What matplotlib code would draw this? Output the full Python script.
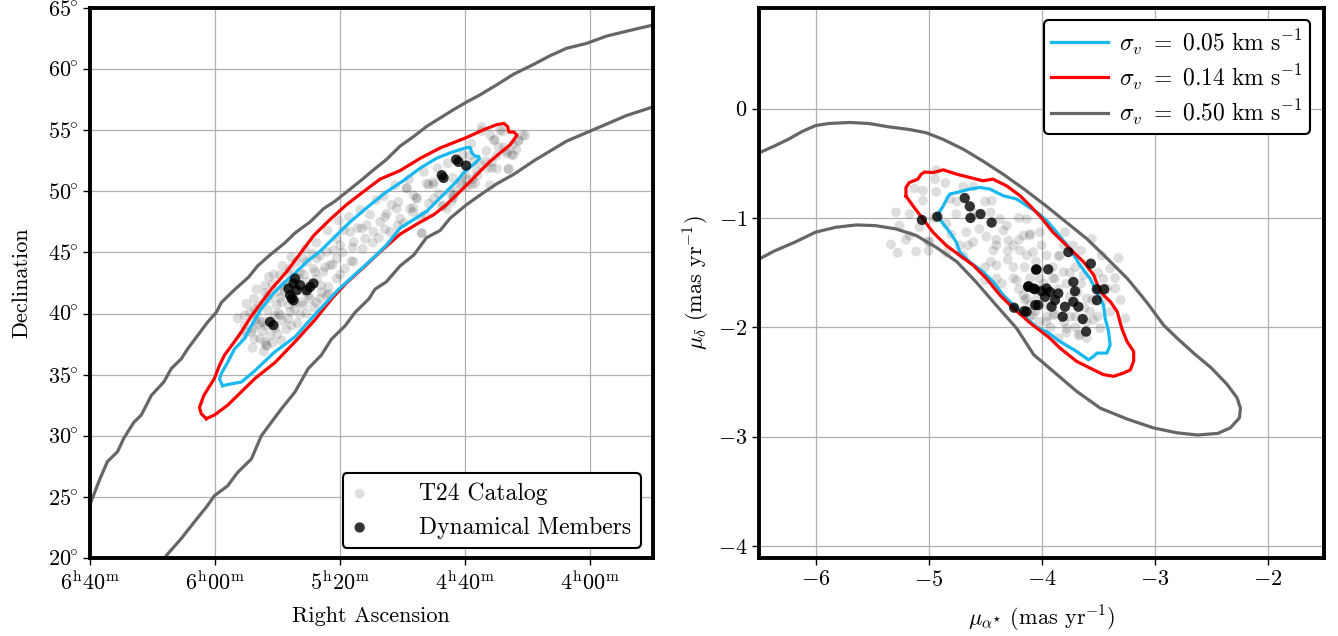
import matplotlib
matplotlib.use("Agg")
import matplotlib.pyplot as plt
from matplotlib.ticker import FuncFormatter
import numpy as np

plt.rcParams['font.family'] = 'serif'
plt.rcParams['font.serif'] = ['cmr10']
plt.rcParams['mathtext.fontset'] = 'cm'
plt.rcParams['axes.unicode_minus'] = False

# ---------------- left panel: sky positions (deg) ----------------
t24_ra = [68.67, 67.73, 65.73, 66.67, 66.13, 66.53, 67.47, 67.87, 68.67, 69.6, 69.2, 69.87,
          70.4, 70.93, 71.73, 72.53, 73.07, 73.87, 74.13, 74.67, 75.33, 75.47, 76.27, 76.4,
          74.4, 73.47, 76.8, 77.87, 78.27, 79.2, 79.73, 80.0, 80.27, 80.53, 81.07, 81.6,
          81.87, 78.93, 79.6, 80.8, 81.33, 82.13, 82.67, 83.2, 84.0, 84.8, 84.53, 85.07,
          85.6, 86.13, 85.07, 84.0, 82.93, 81.87, 81.6, 80.93, 80.27, 86.67, 86.13, 86.93,
          87.47, 86.4, 85.87, 84.8, 82.67, 81.07, 80.27, 78.93, 78.0, 77.33, 76.0, 75.2,
          73.6, 72.53, 71.47, 70.67, 68.0, 69.33, 67.33,
          87.64, 87.1, 86.84, 86.03, 85.9, 86.3, 85.23, 84.16, 83.62, 84.69, 83.08, 86.84,
          87.64, 85.76, 84.42, 82.55, 81.47, 83.89,
          83.3, 83.9, 84.4, 83.0, 82.4, 84.8, 85.4, 83.6, 82.9, 84.2, 85.8, 86.5, 84.6, 83.2,
          82.1, 81.5, 82.6, 83.8, 84.9, 86.0, 85.2, 85.6, 86.8, 87.2, 84.3, 83.5, 82.2, 81.2,
          80.6, 79.8, 79.0, 78.6, 77.6, 76.9, 75.9, 74.9, 72.9, 71.0, 70.0, 69.0, 68.3, 67.0,
          65.4, 66.9,
          69.07, 68.4, 67.87, 67.6, 66.67, 66.27, 65.2, 65.73, 68.67, 66.53, 69.47, 69.87,
          70.93, 71.87, 71.07, 73.47, 72.53, 72.93, 74.67, 73.87, 74.13,
          86.2, 85.9, 86.6, 85.0, 84.7, 85.4, 86.1, 87.0, 87.8, 88.2, 87.5, 86.9, 85.3, 84.6,
          83.9, 82.8, 81.9, 81.0, 80.1, 79.3, 78.4, 77.1, 76.5, 75.6, 74.5, 73.3, 72.2, 71.4,
          70.2, 69.5, 68.0, 67.2, 82.0, 82.9, 84.1, 83.4, 82.7, 81.9, 80.9, 80.0, 79.1, 78.2,
          77.4, 76.4, 75.4, 74.2, 73.2, 72.1, 71.2, 70.3, 69.4, 68.2, 67.5, 66.2, 65.9, 86.0,
          86.7, 85.7]
t24_dec = [55.27, 54.18, 54.18, 53.09, 52.95, 51.86, 51.86, 52.41, 52.14, 52.95, 50.64, 50.36,
           50.64, 49.68, 48.86, 50.77, 50.64, 49.41, 49.68, 50.23, 49.14, 48.59, 48.18, 47.91,
           48.59, 46.55, 47.5, 47.23, 46.96, 46.68, 46.82, 45.59, 46.14, 45.18, 45.05, 44.77,
           44.5, 44.23, 43.68, 43.96, 43.41, 43.68, 44.23, 43.41, 43.68, 43.14, 42.32, 41.77,
           41.23, 40.96, 40.68, 40.14, 40.68, 42.86, 41.23, 42.18, 42.86, 39.86, 39.32, 38.77,
           38.5, 37.96, 37.41, 39.86, 41.77, 41.5, 44.5, 45.86, 46.14, 46.68, 46.68, 47.77,
           47.91, 49.41, 48.59, 50.09, 50.5, 52.41, 53.64,
           39.02, 38.47, 37.93, 37.66, 37.38, 39.29, 39.84, 39.56, 40.38, 40.93, 40.93, 40.38,
           39.84, 41.47, 41.74, 41.47, 41.74, 39.02,
           42.9, 42.6, 42.0, 41.9, 41.2, 41.3, 42.4, 40.9, 43.2, 43.3, 40.3, 40.6, 39.4, 39.9,
           40.5, 42.3, 42.6, 41.5, 40.0, 41.7, 38.8, 38.2, 39.5, 40.1, 38.7, 44.2, 44.9, 43.8,
           44.0, 45.0, 45.4, 47.0, 48.1, 46.2, 48.9, 47.4, 49.0, 51.1, 51.4, 51.3, 53.3, 54.9,
           54.6, 53.6,
           51.65, 52.46, 51.92, 54.24, 53.28, 53.0, 54.56, 54.1, 54.92, 51.78, 50.55, 50.96,
           49.46, 48.78, 49.19, 46.6, 50.55, 50.55, 50.28, 49.46, 48.65,
           38.6, 39.0, 39.1, 38.3, 37.8, 37.6, 36.9, 37.2, 38.2, 39.6, 40.8, 41.2, 43.2, 43.9,
           44.6, 45.3, 45.8, 46.8, 47.6, 47.9, 48.5, 49.3, 49.6, 50.5, 51.0, 51.6, 51.9, 52.3,
           53.0, 53.9, 54.6, 55.0, 43.4, 44.5, 40.7, 39.2, 40.0, 40.9, 41.6, 43.2, 44.3, 45.3,
           45.8, 46.9, 47.2, 48.3, 48.1, 49.8, 49.9, 50.8, 51.0, 51.9, 52.9, 53.8, 53.4, 42.3,
           42.0, 43.0]

dyn_ra = [83.73, 83.47, 84.0, 83.73, 83.2, 82.67, 82.13, 82.4, 84.13, 83.6, 83.87, 85.6, 85.33,
          71.87, 71.73, 70.72, 70.53, 69.92]
dyn_dec = [42.46, 41.91, 41.5, 41.09, 42.32, 41.91, 42.46, 42.18, 42.05, 42.86, 41.23, 39.32, 39.05,
           51.32, 51.1, 52.6, 52.41, 52.11]

# sigma_v = 0.50 band (two edges)
sky_gray_up_ra = [100.0, 99.2, 98.6, 97.8, 97.3, 96.5, 95.9, 95.1, 94.1, 93.5, 92.7, 92.2, 91.4,
                  90.6, 89.9, 89.5, 88.5, 87.3, 86.6, 85.6, 84.4, 83.6, 82.4, 81.3, 80.4, 79.3,
                  78.2, 77.4, 76.3, 75.2, 74.1, 73.1, 72.0, 70.9, 69.9, 68.8, 67.5, 66.1, 64.5,
                  63.2, 61.9, 60.3, 58.7, 57.1, 55.0]
sky_gray_up_dec = [24.4, 26.5, 27.9, 28.7, 29.8, 31.1, 31.7, 33.3, 34.4, 35.5, 36.3, 37.1, 38.2,
                   39.3, 40.1, 40.9, 41.9, 43.0, 43.9, 44.8, 45.8, 46.6, 47.5, 48.6, 49.2, 50.1,
                   51.0, 51.7, 52.6, 53.7, 54.5, 55.3, 56.0, 56.7, 57.3, 57.9, 58.7, 59.6, 60.4,
                   61.1, 61.7, 62.1, 62.7, 63.1, 63.6]
sky_gray_lo_ra = [94.3, 93.9, 92.7, 91.7, 90.6, 90.05, 89.0, 88.2, 87.1, 86.3, 85.5, 84.7, 83.6,
                  82.55, 81.5, 80.7, 79.6, 78.8, 77.7, 77.2, 76.3, 75.2, 74.1, 73.1, 72.0, 71.2,
                  69.9, 68.8, 67.5, 66.1, 64.5, 63.2, 61.9, 60.3, 58.7, 57.1, 55.0]
sky_gray_lo_dec = [19.5, 20.2, 21.6, 22.9, 24.3, 25.1, 25.9, 27.0, 28.1, 30.0, 31.1, 32.2, 33.6,
                   35.5, 36.6, 37.9, 39.0, 40.1, 41.2, 42.0, 42.6, 43.9, 44.8, 46.2, 46.8, 47.8,
                   48.9, 49.7, 50.6, 51.4, 52.5, 53.3, 54.1, 54.8, 55.5, 56.2, 56.9]

# sigma_v = 0.14
sky_red_ra = [90.7, 91.1, 91.25, 90.9, 90.05, 89.65, 89.25, 88.45, 87.9, 87.1, 86.3, 85.5, 84.3,
              83.2, 82.1, 80.8, 79.5, 78.1, 76.8, 75.2, 73.6, 72.0, 69.9, 68.5, 67.5, 66.9, 66.6,
              66.5, 66.1, 65.85, 66.4, 67.2, 68.0, 68.8, 69.6, 70.4, 71.5, 72.5, 73.9, 75.2, 76.8,
              78.1, 79.5, 80.6, 82.0, 83.6, 85.2, 86.8, 87.9, 89.0, 90.05, 90.7]
sky_red_dec = [31.4, 31.8, 32.3, 33.3, 34.7, 35.75, 36.6, 37.7, 38.5, 39.8, 40.9, 42.0, 43.4,
               44.9, 46.4, 47.7, 48.9, 50.0, 51.0, 51.7, 52.7, 53.55, 54.4, 55.05, 55.45, 55.55,
               55.3, 54.85, 54.85, 54.6, 53.8, 53.15, 52.45, 51.65, 50.8, 50.0, 48.9, 48.1, 47.3,
               46.5, 45.05, 43.8, 42.5, 41.3, 39.5, 37.7, 36.0, 34.7, 33.6, 32.5, 31.7, 31.4]

# sigma_v = 0.05
sky_blue_ra = [89.4, 89.65, 89.5, 89.0, 88.45, 87.65, 87.1, 86.3, 85.3, 84.4, 83.6, 82.6, 81.6,
               80.4, 79.2, 77.7, 76.3, 74.9, 73.6, 72.3, 71.2, 70.0, 69.6, 69.47, 69.2, 68.93,
               68.85, 69.33, 70.0, 70.67, 71.47, 72.27, 73.07, 74.13, 75.2, 76.3, 77.3, 78.7, 80.1,
               81.3, 82.3, 83.6, 85.3, 86.84, 87.9, 88.7, 89.4]
sky_blue_dec = [34.1, 34.65, 35.1, 36.0, 37.1, 37.95, 39.0, 40.4, 41.7, 42.6, 43.3, 44.3, 45.1,
                46.3, 47.5, 48.8, 49.95, 50.9, 51.9, 52.7, 53.15, 53.55, 53.6, 53.15, 52.87, 52.87,
                52.68, 52.19, 51.65, 50.83, 50.0, 49.19, 48.37, 47.69, 47.0, 45.6, 44.6, 43.3, 42.0,
                40.7, 39.6, 38.1, 36.8, 35.3, 34.4, 34.25, 34.1]

# ---------------- right panel: proper motions (mas/yr) ----------------
t24_pmra = [-4.932, -4.941, -5.125, -4.932, -5.05, -5.288, -5.169, -5.258, -5.08, -5.332, -5.273,
            -5.11, -5.006, -5.169, -4.843, -4.813, -4.694, -4.605, -4.442, -4.754, -4.665, -4.487,
            -4.605, -4.694, -4.427, -4.338, -4.294, -4.249, -4.398, -4.19, -4.131, -4.16, -4.101,
            -4.309, -4.368, -4.131, -4.501, -4.398, -4.22, -4.16, -4.991, -4.843, -4.724,
            -4.104, -4.015, -3.793, -3.719, -3.556, -3.467, -3.319, -3.837, -3.956, -4.074, -3.881,
            -3.807, -3.63, -3.422, -3.348, -3.6, -3.57, -3.393, -3.259, -3.481, -3.659, -3.778,
            -3.956, -4.074, -3.748, -3.541, -3.674, -3.896, -4.015, -4.133, -4.104, -3.452, -3.393,
            -3.98, -3.9, -3.85, -3.75, -4.05, -3.95, -3.88, -3.8, -3.7, -4.1, -4.2, -4.25, -3.65,
            -3.55, -3.6, -3.78, -3.92, -4.02, -4.15, -4.3, -4.4, -4.45,
            -4.85, -4.75, -4.6, -4.5, -4.55, -4.4, -4.3, -4.2, -4.25, -4.1, -4.05, -3.9, -3.85,
            -3.7, -3.65, -3.5, -3.45, -3.5, -3.62, -3.7, -3.85, -3.95, -4.05, -4.0, -3.78, -3.68,
            -3.9, -4.15, -4.35, -4.5, -4.65, -4.8, -4.95, -5.05, -5.2, -5.0, -3.35, -3.3, -3.6,
            -3.75, -4.45, -4.2, -4.0, -3.8]
t24_pmdec = [-0.561, -0.645, -0.73, -0.761, -0.842, -0.948, -0.964, -1.07, -1.085, -1.242, -1.318,
             -1.306, -1.212, -1.161, -1.318, -0.827, -0.712, -0.712, -0.842, -0.964, -1.13, -1.17,
             -1.221, -1.342, -1.297, -1.115, -1.206, -1.252, -1.433, -1.297, -1.342, -1.161, -1.145,
             -1.07, -1.009, -1.009, -1.57, -1.555, -1.57, -1.706, -1.221, -1.055, -1.252,
             -1.161, -1.13, -1.13, -1.252, -1.191, -1.342, -1.367, -1.342, -1.342, -1.312, -1.555,
             -1.494, -1.524, -1.645, -1.645, -1.736, -1.858, -1.858, -1.918, -2.009, -2.07, -2.009,
             -1.948, -1.888, -1.903, -1.933, -2.07, -1.888, -1.555, -1.736, -1.797, -1.555, -1.464,
             -1.6, -1.55, -1.65, -1.72, -1.75, -1.8, -1.88, -1.95, -1.9, -1.9, -1.65, -1.55, -1.6,
             -1.75, -1.95, -2.05, -2.0, -1.95, -1.45, -1.38, -1.25, -1.4,
             -0.68, -0.85, -0.95, -0.85, -1.1, -1.2, -1.3, -1.2, -1.45, -1.55, -1.4, -1.45, -1.35,
             -1.45, -1.3, -1.5, -1.75, -1.9, -1.82, -2.0, -2.1, -1.9, -1.85, -1.65, -1.6, -1.68,
             -1.7, -1.75, -1.6, -1.45, -1.25, -1.15, -1.0, -0.75, -1.2, -1.3, -1.55, -1.75, -2.1,
             -1.5, -0.95, -1.0, -1.25, -1.25]

dyn_pmra = [-5.059, -4.923, -4.68, -4.635, -4.629, -4.54, -4.442, -4.05, -4.116, -4.071, -4.243,
            -4.154, -4.056, -3.763, -3.564, -4.044, -3.941, -3.719, -3.704, -3.511, -3.446, -3.511,
            -4.119, -4.059, -4.0, -3.956, -3.926, -3.852, -3.97, -3.881, -4.03, -3.911, -3.793,
            -3.719, -3.674, -3.813, -3.636, -3.606, -4.133]
dyn_pmdec = [-1.018, -0.988, -0.818, -0.894, -1.0, -0.964, -1.042, -1.473, -1.624, -1.645, -1.821,
             -1.852, -1.797, -1.312, -1.418, -1.47, -1.47, -1.585, -1.67, -1.652, -1.652, -1.752,
             -1.63, -1.652, -1.67, -1.645, -1.676, -1.691, -1.721, -1.752, -1.797, -1.812, -1.812,
             -1.767, -1.812, -1.903, -1.924, -2.039, -1.858]

pm_gray_x = [-6.6, -6.49, -6.36, -6.24, -6.12, -6.0, -5.88, -5.70, -5.53, -5.35, -5.17, -5.02,
             -4.87, -4.69, -4.52, -4.34, -4.15, -3.96, -3.78, -3.60, -3.42, -3.24, -3.07, -2.92,
             -2.80, -2.65, -2.50, -2.36, -2.27, -2.24, -2.25, -2.33, -2.44, -2.62, -2.80, -3.01,
             -3.24, -3.48, -3.69, -3.90, -4.07, -4.22, -4.40, -4.58, -4.75, -4.93, -5.11, -5.29,
             -5.47, -5.64, -5.82, -6.0, -6.18, -6.36, -6.49, -6.6]
pm_gray_y = [-0.44, -0.40, -0.34, -0.28, -0.21, -0.155, -0.136, -0.127, -0.136, -0.167, -0.191,
             -0.221, -0.282, -0.373, -0.479, -0.60, -0.74, -0.89, -1.04, -1.19, -1.37, -1.555,
             -1.77, -1.98, -2.10, -2.24, -2.37, -2.52, -2.645, -2.74, -2.83, -2.92, -2.97, -2.985,
             -2.965, -2.92, -2.84, -2.74, -2.585, -2.40, -2.25, -2.01, -1.80, -1.585, -1.40, -1.27,
             -1.16, -1.10, -1.07, -1.064, -1.085, -1.13, -1.22, -1.30, -1.37, -1.43]

pm_red_x = [-5.20, -5.20, -5.17, -5.095, -5.065, -5.036, -4.96, -4.87, -4.75, -4.635, -4.52, -4.43,
            -4.31, -4.19, -4.09, -4.0, -3.90, -3.75, -3.63, -3.54, -3.48, -3.39, -3.33, -3.29,
            -3.244, -3.185, -3.185, -3.215, -3.274, -3.363, -3.452, -3.541, -3.689, -3.837, -3.926,
            -4.0, -4.09, -4.249, -4.368, -4.487, -4.605, -4.724, -4.843, -4.961, -5.05, -5.139,
            -5.20]
pm_red_y = [-0.80, -0.72, -0.676, -0.645, -0.60, -0.58, -0.585, -0.56, -0.60, -0.63, -0.66, -0.645,
            -0.706, -0.797, -0.90, -1.0, -1.13, -1.28, -1.40, -1.52, -1.676, -1.767, -1.858, -2.01,
            -2.13, -2.22, -2.31, -2.39, -2.418, -2.448, -2.433, -2.388, -2.312, -2.19, -2.10, -2.04,
            -1.97, -1.827, -1.706, -1.555, -1.433, -1.342, -1.252, -1.13, -1.009, -0.888, -0.80]

pm_blue_x = [-4.92, -4.87, -4.83, -4.81, -4.75, -4.635, -4.546, -4.457, -4.338, -4.22, -4.131,
             -4.03, -3.95, -3.867, -3.748, -3.659, -3.57, -3.511, -3.452, -3.437, -3.407, -3.393,
             -3.422, -3.511, -3.541, -3.585, -3.689, -3.837, -3.956, -4.042, -4.131, -4.249, -4.338,
             -4.427, -4.516, -4.635, -4.724, -4.754, -4.813, -4.902, -4.92]
pm_blue_y = [-0.97, -0.89, -0.81, -0.78, -0.767, -0.736, -0.721, -0.736, -0.797, -0.827, -0.888,
             -0.955, -1.03, -1.13, -1.282, -1.433, -1.555, -1.676, -1.797, -1.918, -2.039, -2.161,
             -2.236, -2.236, -2.267, -2.297, -2.221, -2.13, -2.039, -2.0, -1.918, -1.797, -1.706,
             -1.585, -1.494, -1.403, -1.312, -1.221, -1.13, -1.009, -0.97]

sigma_labels = [r'$\sigma_v\ =\ 0.05\ \mathrm{km\ s^{-1}}$',
                r'$\sigma_v\ =\ 0.14\ \mathrm{km\ s^{-1}}$',
                r'$\sigma_v\ =\ 0.50\ \mathrm{km\ s^{-1}}$']

c_blue = '#18b9f0'
c_red = '#ff0000'
c_gray = '#666666'
lw_c = 2.3
fs = 16


def style_axes(ax):
    for s in ax.spines.values():
        s.set_linewidth(2.8)
        s.set_zorder(10)
    ax.grid(True, color='#b0b0b0', lw=0.9, zorder=0)
    ax.set_axisbelow(True)
    ax.tick_params(direction='out', length=5, width=1.0, labelsize=fs, top=False, right=False)


fig = plt.figure(figsize=(13.38, 6.36), dpi=100)
ax1 = fig.add_axes([0.0673, 0.1226, 0.4205, 0.8648])
ax2 = fig.add_axes([0.5673, 0.1226, 0.4223, 0.8648])

# left
style_axes(ax1)
ax1.scatter(t24_ra, t24_dec, s=50, color='k', alpha=0.13, edgecolors='none', zorder=2,
            label='T24 Catalog')
ax1.plot(sky_gray_up_ra, sky_gray_up_dec, color=c_gray, lw=lw_c, zorder=3)
ax1.plot(sky_gray_lo_ra, sky_gray_lo_dec, color=c_gray, lw=lw_c, zorder=3)
ax1.plot(sky_red_ra, sky_red_dec, color=c_red, lw=lw_c, zorder=3)
ax1.plot(sky_blue_ra, sky_blue_dec, color=c_blue, lw=lw_c, zorder=3)
ax1.scatter(dyn_ra, dyn_dec, s=55, color='k', alpha=0.8, edgecolors='none', zorder=4,
            label='Dynamical Members')
ax1.set_xlim(100, 55)
ax1.set_ylim(20, 65)
ax1.set_xticks([100, 90, 80, 70, 60])
ax1.set_yticks(np.arange(20, 66, 5))


def ra_fmt(v, pos):
    h = int(v // 15)
    m = int(round((v / 15.0 - h) * 60))
    return r'$%d^{\mathrm{h}}%02d^{\mathrm{m}}$' % (h, m)


ax1.xaxis.set_major_formatter(FuncFormatter(ra_fmt))
ax1.yaxis.set_major_formatter(FuncFormatter(lambda v, p: r'$%d^{\!\!\circ}$' % v))
ax1.set_xlabel('Right Ascension', fontsize=fs, labelpad=9)
ax1.set_ylabel('Declination', fontsize=fs, labelpad=12)
leg1 = ax1.legend(loc='lower right', fontsize=fs + 1, frameon=True, fancybox=True,
                  framealpha=1, edgecolor='k', borderpad=0.4, handlelength=0.65,
                  handletextpad=2.2, borderaxespad=0, bbox_to_anchor=(0.979, 0.018))
leg1.get_frame().set_linewidth(1.5)
leg1.set_zorder(20)

# right
style_axes(ax2)
ax2.scatter(t24_pmra, t24_pmdec, s=50, color='k', alpha=0.13, edgecolors='none', zorder=2)
ax2.plot(pm_blue_x, pm_blue_y, color=c_blue, lw=lw_c, zorder=3, label=sigma_labels[0])
ax2.plot(pm_red_x, pm_red_y, color=c_red, lw=lw_c, zorder=3, label=sigma_labels[1])
ax2.plot(pm_gray_x, pm_gray_y, color=c_gray, lw=lw_c, zorder=3, label=sigma_labels[2])
ax2.scatter(dyn_pmra, dyn_pmdec, s=55, color='k', alpha=0.8, edgecolors='none', zorder=4)
ax2.set_xlim(-6.5, -1.5)
ax2.set_ylim(-4.11, 0.92)
ax2.set_xticks([-6, -5, -4, -3, -2])
ax2.set_yticks([0, -1, -2, -3, -4])
mfmt = FuncFormatter(lambda v, p: r'$%d$' % v)
ax2.xaxis.set_major_formatter(mfmt)
ax2.yaxis.set_major_formatter(mfmt)
ax2.set_xlabel(r'$\mu_{\alpha^{\star}}$ (mas yr$^{-1}$)', fontsize=fs, labelpad=10)
ax2.set_ylabel(r'$\mu_{\delta}$ (mas yr$^{-1}$)', fontsize=fs, labelpad=4)
leg2 = ax2.legend(loc='upper right', fontsize=fs + 1, frameon=True, fancybox=True,
                  framealpha=1, edgecolor='k', handlelength=2.4, handletextpad=0.5,
                  borderpad=0.3, labelspacing=0.25, borderaxespad=0,
                  bbox_to_anchor=(0.975, 0.978))
leg2.get_frame().set_linewidth(1.5)
leg2.set_zorder(20)

fig.savefig('out.png', dpi=100)
